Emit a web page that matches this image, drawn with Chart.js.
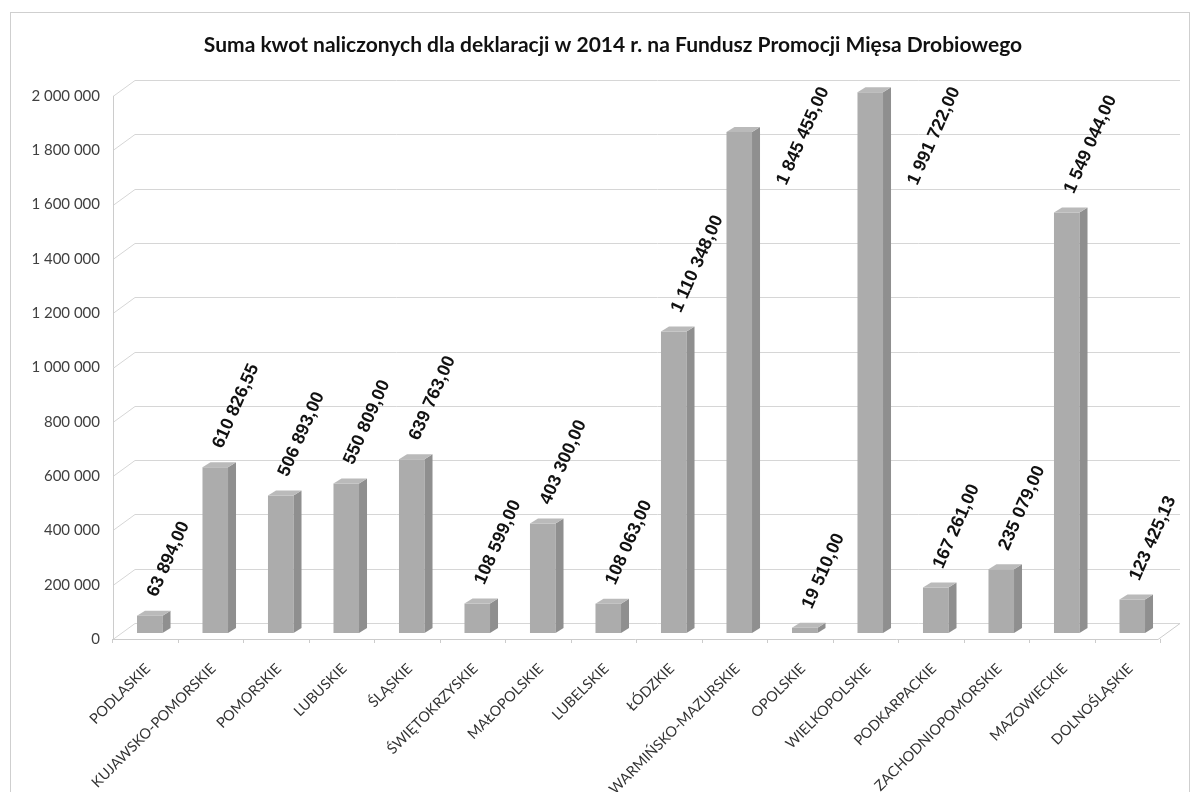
<!DOCTYPE html>
<html><head><meta charset="utf-8">
<script src="https://cdn.jsdelivr.net/npm/chart.js@4.4.1/dist/chart.umd.min.js"></script>
<style>html,body{margin:0;padding:0;background:#fff;} #wrap{width:1198px;height:792px;position:relative}</style>
</head><body><div id="wrap"><canvas id="c" width="1198" height="792"></canvas></div>
<script>
const categories = ['PODLASKIE','KUJAWSKO-POMORSKIE','POMORSKIE','LUBUSKIE','ŚLĄSKIE','ŚWIĘTOKRZYSKIE','MAŁOPOLSKIE','LUBELSKIE','ŁÓDZKIE','WARMIŃSKO-MAZURSKIE','OPOLSKIE','WIELKOPOLSKIE','PODKARPACKIE','ZACHODNIOPOMORSKIE','MAZOWIECKIE','DOLNOŚLĄSKIE'];
const amounts = [63894.00, 610826.55, 506893.00, 550809.00, 639763.00, 108599.00, 403300.00, 108063.00, 1110348.00, 1845455.00, 19510.00, 1991722.00, 167261.00, 235079.00, 1549044.00, 123425.13];
const yMin = 0, yMax = 2000000, yStep = 200000;
const titleText = 'Suma kwot naliczonych dla deklaracji w 2014 r. na Fundusz Promocji Mięsa Drobiowego';

function groupInt(s){ return s.replace(/\B(?=(\d{3})+(?!\d))/g, ' '); }
function fmtInt(v){ return groupInt(String(Math.round(v))); }
function fmtAmount(v){ const p = v.toFixed(2).split('.'); return groupInt(p[0]) + ',' + p[1]; }

const scene3d = {
  id: 'scene3d',
  beforeDraw(chart){
    const ctx = chart.ctx;
    ctx.save();
    ctx.strokeStyle = '#cfcfcf'; ctx.lineWidth = 1;
    ctx.strokeRect(10.5, 12.5, 1179, 800);
    // title
    ctx.font = 'bold 21px Lato, "Open Sans", sans-serif';
    ctx.fillStyle = '#111111';
    ctx.textAlign = 'center'; ctx.textBaseline = 'middle';
    ctx.fillText(titleText, 613, 45);
    ctx.restore();
  },
  beforeDatasetsDraw(chart){
    const ctx = chart.ctx, ys = chart.scales.y, xs = chart.scales.x;
    const axX = 113, backX = 135, rightX = 1180, frontRight = 1158;
    ctx.save();
    ctx.lineWidth = 1;
    ctx.strokeStyle = '#d6d6d6';
    ys.ticks.forEach(t => {
      const py = Math.round(ys.getPixelForValue(t.value));
      ctx.beginPath();
      ctx.moveTo(axX, py + 6.5);
      ctx.lineTo(backX, py - 9.5);
      ctx.lineTo(rightX, py - 9.5);
      ctx.stroke();
    });
    const y0 = Math.round(ys.getPixelForValue(0));
    const yT = Math.round(ys.getPixelForValue(yMax));
    ctx.strokeStyle = '#cccccc';
    ctx.beginPath();
    ctx.moveTo(axX + 0.5, yT + 6); ctx.lineTo(axX + 0.5, y0 + 6);
    ctx.stroke();
    ctx.beginPath();
    ctx.moveTo(axX, y0 + 6.5); ctx.lineTo(frontRight, y0 + 6.5); ctx.lineTo(rightX, y0 - 9.5);
    ctx.stroke();
    for (let i = 0; i <= categories.length; i++) {
      const bx = Math.round(xs.left + (xs.right - xs.left) * i / categories.length) - 4.5;
      ctx.beginPath(); ctx.moveTo(bx, y0 + 6); ctx.lineTo(bx, y0 + 10); ctx.stroke();
    }
    ctx.restore();
  },
  afterDatasetsDraw(chart){
    const ctx = chart.ctx;
    const meta = chart.getDatasetMeta(0);
    const d = 8, dz = 5;
    ctx.save();
    meta.data.forEach(el => {
      const hw = el.width / 2, x = el.x, top = el.y, base = el.base;
      ctx.fillStyle = '#8f8f8f';
      ctx.beginPath();
      ctx.moveTo(x + hw, top); ctx.lineTo(x + hw + d, top - dz);
      ctx.lineTo(x + hw + d, base - dz); ctx.lineTo(x + hw, base); ctx.closePath(); ctx.fill();
      ctx.fillStyle = '#bababa';
      ctx.beginPath();
      ctx.moveTo(x - hw, top); ctx.lineTo(x - hw + d, top - dz);
      ctx.lineTo(x + hw + d, top - dz); ctx.lineTo(x + hw, top); ctx.closePath(); ctx.fill();
    });
    const ang = 66 * Math.PI / 180;
    ctx.font = 'bold 18px "Liberation Sans", Arial, sans-serif';
    ctx.fillStyle = '#111111';
    ctx.textAlign = 'left'; ctx.textBaseline = 'alphabetic';
    meta.data.forEach((el, i) => {
      const txt = fmtAmount(amounts[i]);
      const w = ctx.measureText(txt).width;
      const h = w * Math.sin(ang);
      let sx = el.x + 7, sy = el.y - 18;
      if (sy - h < 86) { sx = el.x + 47; sy = 90 + h; }
      ctx.save();
      ctx.translate(sx, sy); ctx.rotate(-ang);
      ctx.fillText(txt, 0, 0);
      ctx.restore();
    });
    ctx.restore();
  }
};

Chart.defaults.font.family = 'Lato, "Open Sans", sans-serif';

new Chart(document.getElementById('c'), {
  type: 'bar',
  data: {
    labels: categories,
    datasets: [{
      data: amounts,
      backgroundColor: '#acacac',
      borderWidth: 0,
      barPercentage: 0.39,
      categoryPercentage: 1.0
    }]
  },
  options: {
    responsive: false,
    animation: false,
    devicePixelRatio: 1,
    layout: { padding: { left: 0, right: 33, top: 90, bottom: 0 } },
    plugins: {
      legend: { display: false },
      tooltip: { enabled: false },
      title: { display: false }
    },
    scales: {
      x: {
        grid: { display: false, drawTicks: false },
        border: { display: false },
        ticks: {
          autoSkip: false, maxRotation: 45, minRotation: 45,
          padding: 27, labelOffset: -2,
          color: '#333333',
          font: { family: 'Lato', size: 14.5 }
        },
        afterFit(scale){ scale.height = 159; }
      },
      y: {
        min: yMin, max: yMax,
        grid: { display: false, drawTicks: false },
        border: { display: false },
        ticks: {
          stepSize: yStep,
          padding: 17,
          labelOffset: 6,
          color: '#404040',
          font: { family: 'Lato', size: 15 },
          callback: v => fmtInt(v)
        },
        afterFit(scale){ scale.width = 117; }
      }
    }
  },
  plugins: [scene3d]
});
</script>
</body></html>
